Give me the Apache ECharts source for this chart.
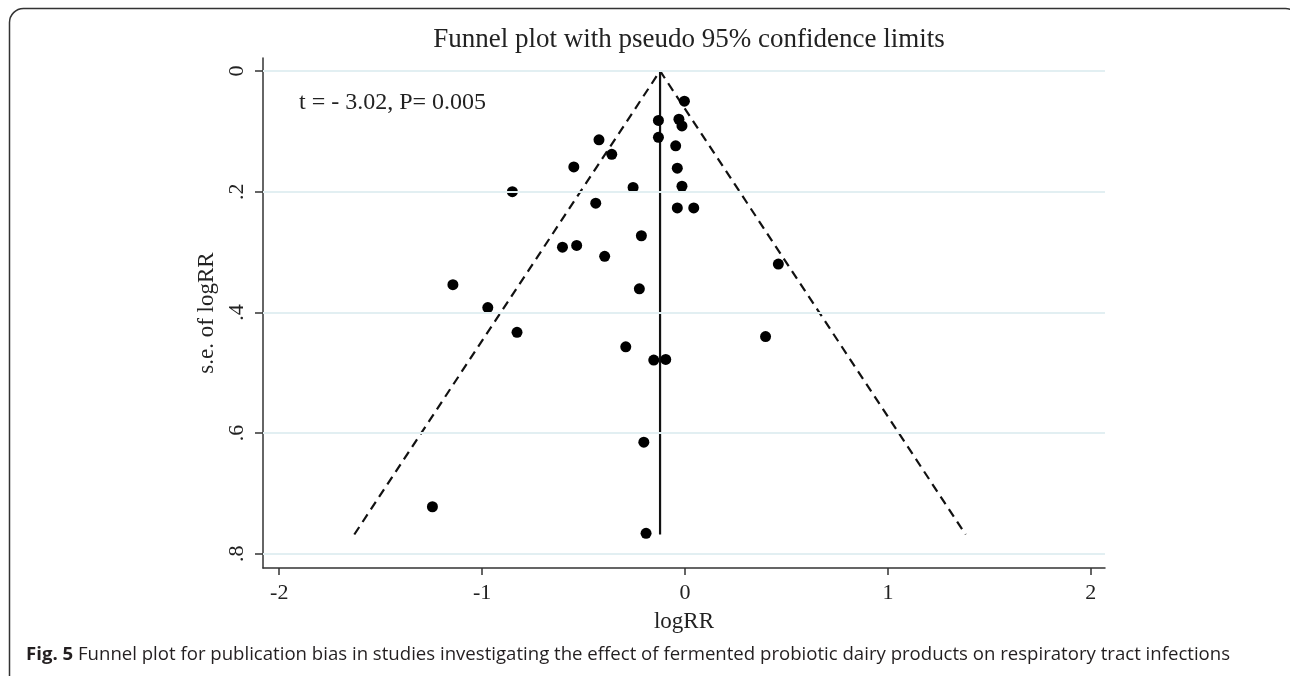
<!DOCTYPE html>
<html>
<head>
<meta charset="utf-8">
<script src="https://cdn.jsdelivr.net/npm/echarts@6/dist/echarts.min.js"></script>
<style>
  html, body { margin: 0; padding: 0; background: #fff; }
  #chart { width: 1290px; height: 676px; }
</style>
</head>
<body>
<div id="chart"></div>
<script>
// study estimates
const logRR = [-0.003, -0.131, -0.030, -0.015, -0.131, -0.424, -0.046, -0.361, -0.548, -0.038,
  -0.851, -0.256, -0.015, -0.440, -0.038, 0.043, -0.215, -0.604, -0.534, -0.396,
  0.460, -1.144, -0.225, -0.972, -0.828, 0.397, -0.292, -0.154, -0.095, -0.203,
  -1.245, -0.192];
const seLogRR = [0.050, 0.082, 0.080, 0.091, 0.110, 0.114, 0.124, 0.138, 0.159, 0.161,
  0.200, 0.193, 0.191, 0.219, 0.227, 0.227, 0.273, 0.292, 0.289, 0.307,
  0.320, 0.354, 0.361, 0.392, 0.433, 0.440, 0.457, 0.479, 0.478, 0.615,
  0.722, 0.766];

// pseudo 95% limits and pooled estimate
const funnelX = [-1.63, -0.123, 1.383];
const funnelY = [0.768, 0, 0.768];
const pooledX = [-0.123, -0.123];
const pooledY = [0, 0.768];

const xTicks = [-2, -1, 0, 1, 2];
const yTicks = [0, 0.2, 0.4, 0.6, 0.8];

const serif = 'Liberation Serif';
const chart = echarts.init(document.getElementById('chart'));

const option = {
  animation: false,
  backgroundColor: '#fff',
  title: {
    text: 'Funnel plot with pseudo 95% confidence limits',
    left: 684,
    textAlign: 'center',
    top: 21,
    textStyle: { fontFamily: serif, fontSize: 27, fontWeight: 'normal', color: '#222' }
  },
  grid: { left: 263, right: 185, top: 58, bottom: 108 },
  xAxis: {
    type: 'value',
    min: -2.08,
    max: 2.07,
    name: 'logRR',
    nameLocation: 'middle',
    nameGap: 42,
    nameTextStyle: { fontFamily: serif, fontSize: 23, color: '#222' },
    axisLine: { onZero: false, lineStyle: { color: '#333', width: 1.5 } },
    axisTick: { customValues: xTicks, length: 7, lineStyle: { color: '#333', width: 1.5 } },
    axisLabel: {
      customValues: xTicks,
      margin: 14,
      fontFamily: serif,
      fontSize: 22,
      color: '#222'
    },
    splitLine: { show: false }
  },
  yAxis: {
    type: 'value',
    inverse: true,
    min: -0.0215,
    max: 0.8235,
    name: 's.e. of logRR',
    nameLocation: 'middle',
    nameRotate: 90,
    nameGap: 44,
    nameTextStyle: { fontFamily: serif, fontSize: 23, color: '#222' },
    axisLine: { onZero: false, lineStyle: { color: '#333', width: 1.5 } },
    axisTick: { customValues: yTicks, length: 8, lineStyle: { color: '#333', width: 1.5 } },
    axisLabel: {
      customValues: yTicks,
      rotate: 90,
      margin: 15,
      fontFamily: serif,
      fontSize: 22,
      color: '#222',
      formatter: (v) => (v === 0 ? '0' : String(v).replace(/^0/, ''))
    },
    splitLine: { show: false }
  },
  graphic: [
    {
      type: 'rect',
      shape: { x: 9.5, y: 8.5, width: 1290, height: 720, r: 14 },
      style: { fill: 'none', stroke: '#333', lineWidth: 1.5 },
      silent: true
    },
    {
      type: 'text',
      left: 299,
      top: 91,
      style: {
        text: 't = - 3.02, P= 0.005',
        font: '24px "Liberation Serif"',
        fill: '#222'
      }
    },
    {
      type: 'text',
      left: 26,
      top: 645,
      style: {
        text: '{b|Fig. 5} Funnel plot for publication bias in studies investigating the effect of fermented probiotic dairy products on respiratory tract infections',
        fontFamily: 'Open Sans',
        fontSize: 18.6,
        fill: '#231f20',
        rich: {
          b: { fontFamily: 'Open Sans', fontSize: 18.6, fontWeight: 'bold', fill: '#231f20' }
        }
      }
    }
  ],
  series: [
    {
      name: 'grid',
      type: 'line',
      data: [],
      silent: true,
      z: 1,
      markLine: {
        silent: true,
        symbol: 'none',
        label: { show: false },
        lineStyle: { type: 'solid', color: '#e2eff2', width: 2 },
        data: yTicks.map((v) => ({ yAxis: v }))
      }
    },
    {
      name: 'limits',
      type: 'line',
      data: funnelX.map((x, i) => [x, funnelY[i]]),
      showSymbol: false,
      lineStyle: { color: '#111', width: 2.2, type: [9, 6] },
      z: 2
    },
    {
      name: 'pooled',
      type: 'line',
      data: pooledX.map((x, i) => [x, pooledY[i]]),
      showSymbol: false,
      lineStyle: { color: '#111', width: 2.2 },
      z: 2
    },
    {
      name: 'studies',
      type: 'scatter',
      data: logRR.map((x, i) => [x, seLogRR[i]]),
      symbolSize: 11,
      itemStyle: { color: '#000', opacity: 1 },
      z: 3
    }
  ]
};

chart.setOption(option);
</script>
</body>
</html>
